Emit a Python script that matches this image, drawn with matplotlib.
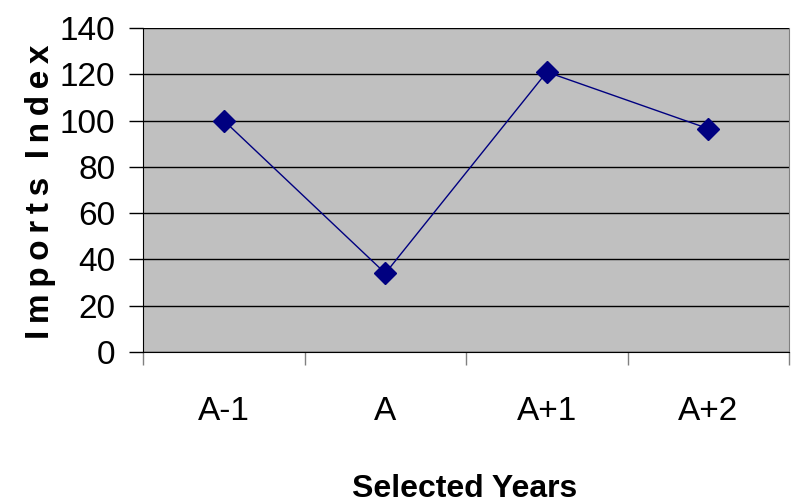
import matplotlib as mpl
mpl.use("Agg")
import matplotlib.pyplot as plt
from matplotlib.ticker import FixedLocator

years = ["A-1", "A", "A+1", "A+2"]
imports_index = [100, 34, 121, 96.5]
y_ticks = [0, 20, 40, 60, 80, 100, 120, 140]

font = ["Liberation Sans", "DejaVu Sans"]

fig = plt.figure(figsize=(7.95, 5.04), dpi=100)
ax = fig.add_axes([0.18, 0.3016, 0.8125, 0.6428])
ax.set_facecolor("#C0C0C0")

pos = [i + 0.5 for i in range(len(years))]
ax.plot(pos, imports_index, color="#000080", linewidth=1, marker="D",
        markersize=11, markerfacecolor="#000080", markeredgecolor="#000080", zorder=3)

ax.set_xlim(0, len(years))
ax.set_ylim(0, 140)
ax.set_yticks(y_ticks)
ax.yaxis.grid(True, color="black", linewidth=1)
ax.set_axisbelow(True)

# category boundaries get ticks, labels sit in the middle
ax.xaxis.set_major_locator(FixedLocator(range(len(years) + 1)))
ax.xaxis.set_minor_locator(FixedLocator(pos))
ax.set_xticklabels([""] * (len(years) + 1))
ax.set_xticklabels(years, minor=True)
ax.tick_params(axis="x", which="major", length=9, width=1, color="#808080", direction="out")
ax.tick_params(axis="x", which="minor", length=0, pad=32)
ax.tick_params(axis="y", length=10, width=1, direction="out", pad=10)

for lab in ax.get_yticklabels() + ax.get_xticklabels(minor=True):
    lab.set_family(font)
    lab.set_fontsize(24)

ax.spines["top"].set_visible(False)
ax.spines["right"].set_color("#808080")
ax.spines["left"].set_color("black")
ax.spines["bottom"].set_color("black")

# the original label is letter-spaced, thin spaces stand in for that
ylab = "\u2009".join("Imports") + "  " + "\u2009".join("Index")
fig.text(0.051, 0.62, ylab, rotation=90, ha="center", va="center",
         fontsize=24, fontweight="bold", family=font)
fig.text(0.585, 0.03, "Selected Years", ha="center", va="center",
         fontsize=23, fontweight="bold", family=font)

fig.savefig("out.png", dpi=100)
